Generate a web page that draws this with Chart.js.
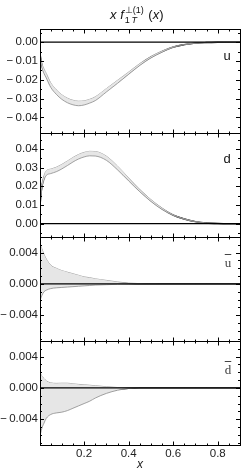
<!DOCTYPE html>
<html>
<head>
<meta charset="utf-8">
<script src="https://cdn.jsdelivr.net/npm/chart.js@4.4.1/dist/chart.umd.min.js"></script>
<style>
    html, body { margin: 0; padding: 0; background: #fff; }
    #wrap { position: relative; width: 250px; height: 475px; }
    #title { position: absolute; left: 110px; top: 7px; font: 13px "Liberation Sans", Arial, sans-serif; color: #111; line-height: 16px; white-space: nowrap; }
    #title .st { display: inline-block; position: relative; width: 21px; height: 10px; }
    #title .sup { position: absolute; left: 1px; top: -7px; font-size: 9px; }
    #title .sub { position: absolute; left: 1px; top: 3px; font-size: 9px; }
    .flav { position: absolute; transform: translate(-50%, -50%); font: 13px "Liberation Sans", Arial, sans-serif; color: #111; }
    .bar { font: 13px "Liberation Serif", serif; color: #444; text-decoration: overline; }
</style>
</head>
<body>
<div id="wrap">
    <canvas id="canvas-chart" width="250" height="475"></canvas>
    <div id="title"><i>x</i> <i>f</i><span class="st"><span class="sup">&perp;(1)</span><span class="sub">1&#8201;<i>T</i></span></span> (<i>x</i>)</div>
    <div class="flav" style="left:227px; top:55px;">u</div>
    <div class="flav" style="left:227px; top:158px;">d</div>
    <div class="flav bar" style="left:228px; top:263px;">u</div>
    <div class="flav bar" style="left:228px; top:370px;">d</div>
</div>
<script>
// x grid shared by all four panels
const xs = [0.002, 0.005, 0.01, 0.02, 0.03, 0.05, 0.075, 0.1, 0.125, 0.15, 0.175, 0.2, 0.225, 0.25,
    0.3, 0.35, 0.4, 0.45, 0.5, 0.55, 0.6, 0.65, 0.7, 0.75, 0.8, 0.85, 0.9];

// u quark
const uMid = [-0.006, -0.0088, -0.0122, -0.0155, -0.0178, -0.0228, -0.0265, -0.0292, -0.031, -0.0321, -0.0326, -0.0323, -0.0314, -0.0301,
    -0.0256, -0.0211, -0.0165, -0.0119, -0.008, -0.005, -0.0026, -0.0013, -0.0005, -0.0002, -0.00005, 0, 0];
const uHi = [-0.0048, -0.0076, -0.011, -0.0143, -0.0166, -0.0216, -0.0253, -0.028, -0.0298, -0.0309, -0.0314, -0.0312, -0.0304, -0.0291,
    -0.0247, -0.0203, -0.0159, -0.0114, -0.0076, -0.0047, -0.0024, -0.0012, -0.00045, -0.0002, -0.00005, 0, 0];
const uLo = [-0.0072, -0.01, -0.0134, -0.0167, -0.019, -0.024, -0.0277, -0.0304, -0.0322, -0.0333, -0.0338, -0.0334, -0.0324, -0.0311,
    -0.0265, -0.0219, -0.0171, -0.0124, -0.0084, -0.0053, -0.0028, -0.0014, -0.00055, -0.0002, -0.00005, 0, 0];

// d quark
const dMid = [0.009, 0.014, 0.0195, 0.0245, 0.027, 0.028, 0.029, 0.0305, 0.0323, 0.0342, 0.0358, 0.0369, 0.0375, 0.0374,
    0.035, 0.0298, 0.0237, 0.0177, 0.0124, 0.008, 0.0046, 0.0025, 0.0011, 0.0004, 0.0001, 0, 0];
const dHi = [0.0102, 0.0152, 0.0207, 0.0257, 0.0282, 0.0292, 0.0302, 0.0317, 0.0335, 0.0354, 0.037, 0.0381, 0.0387, 0.0386,
    0.0361, 0.0308, 0.0245, 0.0183, 0.0129, 0.0084, 0.0048, 0.0026, 0.00115, 0.0004, 0.0001, 0, 0];
const dLo = [0.0078, 0.0128, 0.0183, 0.0233, 0.0258, 0.0268, 0.0278, 0.0293, 0.0311, 0.033, 0.0346, 0.0357, 0.0363, 0.0362,
    0.0339, 0.0288, 0.0229, 0.0171, 0.0119, 0.0076, 0.0044, 0.0024, 0.00105, 0.0004, 0.0001, 0, 0];

// u-bar
const ubMid = [0.0014, 0.0013, 0.0012, 0.00105, 0.00098, 0.0009, 0.00075, 0.00065, 0.00055, 0.00045, 0.00037, 0.0003, 0.00025, 0.0002,
    0.00014, 0.00008, 0.00004, 0.00002, 0, 0, 0, 0, 0, 0, 0, 0, 0];
const ubHi = [0.0054, 0.0049, 0.0045, 0.0038, 0.0032, 0.0024, 0.002, 0.0017, 0.0015, 0.0013, 0.0011, 0.0009, 0.0008, 0.00065,
    0.00045, 0.00025, 0.0001, 0.00004, 0.00001, 0, 0, 0, 0, 0, 0, 0, 0];
const ubLo = [-0.0023, -0.0019, -0.0015, -0.001, -0.0008, -0.0006, -0.0005, -0.00045, -0.0004, -0.00035, -0.0003, -0.00025, -0.0002, -0.00015,
    -0.0001, -0.00005, -0.00002, 0, 0, 0, 0, 0, 0, 0, 0, 0, 0];

// d-bar
const dbMid = [-0.0025, -0.0021, -0.0019, -0.00175, -0.0017, -0.0016, -0.0015, -0.0014, -0.0013, -0.0012, -0.00105, -0.00095, -0.0008, -0.00068,
    -0.00042, -0.00018, -0.00004, 0, 0, 0, 0, 0, 0, 0, 0, 0, 0];
const dbHi = [0.0021, 0.0018, 0.0015, 0.0012, 0.0009, 0.00065, 0.00058, 0.0006, 0.0006, 0.00052, 0.00045, 0.0004, 0.00034, 0.00028,
    0.00015, 0.00005, 0.00001, 0, 0, 0, 0, 0, 0, 0, 0, 0, 0];
const dbLo = [-0.0063, -0.0058, -0.0052, -0.0045, -0.0039, -0.0034, -0.0032, -0.0031, -0.0029, -0.0026, -0.0023, -0.002, -0.0017, -0.0013,
    -0.0007, -0.0003, -0.00006, 0, 0, 0, 0, 0, 0, 0, 0, 0, 0];

// tick labels
const xTicks = [0.2, 0.4, 0.6, 0.8];
const uTicks = [0, -0.01, -0.02, -0.03, -0.04];
const dTicks = [0, 0.01, 0.02, 0.03, 0.04];
const ubTicks = [0.004, 0, -0.004];
const dbTicks = [0.004, 0, -0.004];

const font = { family: '"Liberation Sans", Arial, sans-serif', size: 11.5 };

// panels from top to bottom
const panels = [
    { id: 'yU', mid: uMid, hi: uHi, lo: uLo, ticks: uTicks, min: -0.0483, max: 0.007, minor: 0.005, digits: 2, weight: 4 },
    { id: 'yD', mid: dMid, hi: dHi, lo: dLo, ticks: dTicks, min: -0.0071, max: 0.0485, minor: 0.005, digits: 2, weight: 3 },
    { id: 'yUb', mid: ubMid, hi: ubHi, lo: ubLo, ticks: ubTicks, min: -0.0073, max: 0.006, minor: 0.001, digits: 3, weight: 2 },
    { id: 'yDb', mid: dbMid, hi: dbHi, lo: dbLo, ticks: dbTicks, min: -0.0073, max: 0.006, minor: 0.001, digits: 3, weight: 1 }
];

function pts(arr) {
    return xs.map((x, i) => ({ x: x, y: arr[i] }));
}

function fmt(v, digits) {
    if (Math.abs(v) < 1e-9) return (0).toFixed(digits);
    const s = Math.abs(v).toFixed(digits);
    return v < 0 ? '\u2212\u2009' + s : s;
}

const datasets = [];
const scales = {
    x: {
        type: 'linear',
        min: 0.002,
        max: 0.9,
        grid: { display: false, drawTicks: false },
        border: { display: false },
        afterBuildTicks: (s) => { s.ticks = xTicks.map(v => ({ value: v })); },
        afterFit: (s) => { s.height = 30; },
        ticks: { font: font, color: '#222', padding: 2, maxRotation: 0, autoSkip: false, callback: (v) => v.toFixed(1) },
        title: { display: true, text: 'x', font: { family: font.family, size: 12, style: 'italic' }, color: '#222', padding: { top: 0, bottom: 3 } }
    }
};

panels.forEach(p => {
    datasets.push({ data: pts(p.lo), yAxisID: p.id, borderColor: '#8c8c8c', borderWidth: 0.8, backgroundColor: '#e6e6e6', fill: '+1' });
    datasets.push({ data: pts(p.hi), yAxisID: p.id, borderColor: '#8c8c8c', borderWidth: 0.8, fill: false });
    datasets.push({ data: pts(p.mid), yAxisID: p.id, borderColor: '#000', borderWidth: 1.4, fill: false });
    scales[p.id] = {
        type: 'linear',
        position: 'left',
        stack: 'panels',
        stackWeight: 1,
        weight: p.weight,
        min: p.min,
        max: p.max,
        grid: { display: false, drawTicks: false },
        border: { display: false },
        afterBuildTicks: (s) => { s.ticks = p.ticks.map(v => ({ value: v })); },
        afterFit: (s) => { s.width = 40; },
        ticks: { font: font, color: '#222', padding: 2, autoSkip: false, callback: (v) => fmt(v, p.digits) }
    };
});

// Mathematica style frames: inward ticks on all sides, zero line
const framePlugin = {
    id: 'frames',
    afterDatasetsDraw(chart) {
        const ctx = chart.ctx;
        const sx = chart.scales.x;
        const left = sx.left, right = sx.right;
        ctx.save();
        ctx.strokeStyle = '#000';
        panels.forEach(p => {
            const s = chart.scales[p.id];
            const top = Math.round(s.top) + 0.5, bottom = Math.round(s.bottom) + 0.5;
            // zero line
            const y0 = s.getPixelForValue(0);
            ctx.lineWidth = 1.3;
            ctx.beginPath();
            ctx.moveTo(left, y0);
            ctx.lineTo(right, y0);
            ctx.stroke();
            // frame
            ctx.lineWidth = 1;
            ctx.strokeRect(Math.round(left) + 0.5, top, Math.round(right - left), bottom - top);
            // y ticks
            const n0 = Math.ceil(p.min / p.minor - 1e-6), n1 = Math.floor(p.max / p.minor + 1e-6);
            for (let n = n0; n <= n1; n++) {
                const v = n * p.minor;
                const major = p.ticks.some(t => Math.abs(t - v) < 1e-9);
                const len = major ? 4 : 2;
                const y = Math.round(s.getPixelForValue(v)) + 0.5;
                ctx.beginPath();
                ctx.moveTo(left, y); ctx.lineTo(left + len, y);
                ctx.moveTo(right, y); ctx.lineTo(right - len, y);
                ctx.stroke();
            }
            // x ticks at top and bottom of this panel
            for (let n = 1; n <= 18; n++) {
                const v = n * 0.05;
                const len = (n % 4 === 0) ? 4 : 2;
                const x = Math.round(sx.getPixelForValue(v)) + 0.5;
                ctx.beginPath();
                ctx.moveTo(x, top); ctx.lineTo(x, top + len);
                ctx.moveTo(x, bottom); ctx.lineTo(x, bottom - len);
                ctx.stroke();
            }
        });
        ctx.restore();
    }
};

var ctx = document.getElementById('canvas-chart').getContext('2d');
var chart = new Chart(ctx, {
    type: 'line',
    data: { datasets: datasets },
    options: {
        responsive: false,
        animation: false,
        events: [],
        layout: { padding: { top: 29, right: 10, left: 0, bottom: 0 } },
        elements: { point: { radius: 0 }, line: { cubicInterpolationMode: 'monotone' } },
        plugins: { legend: { display: false }, tooltip: { enabled: false } },
        scales: scales
    },
    plugins: [framePlugin]
});
</script>
</body>
</html>
